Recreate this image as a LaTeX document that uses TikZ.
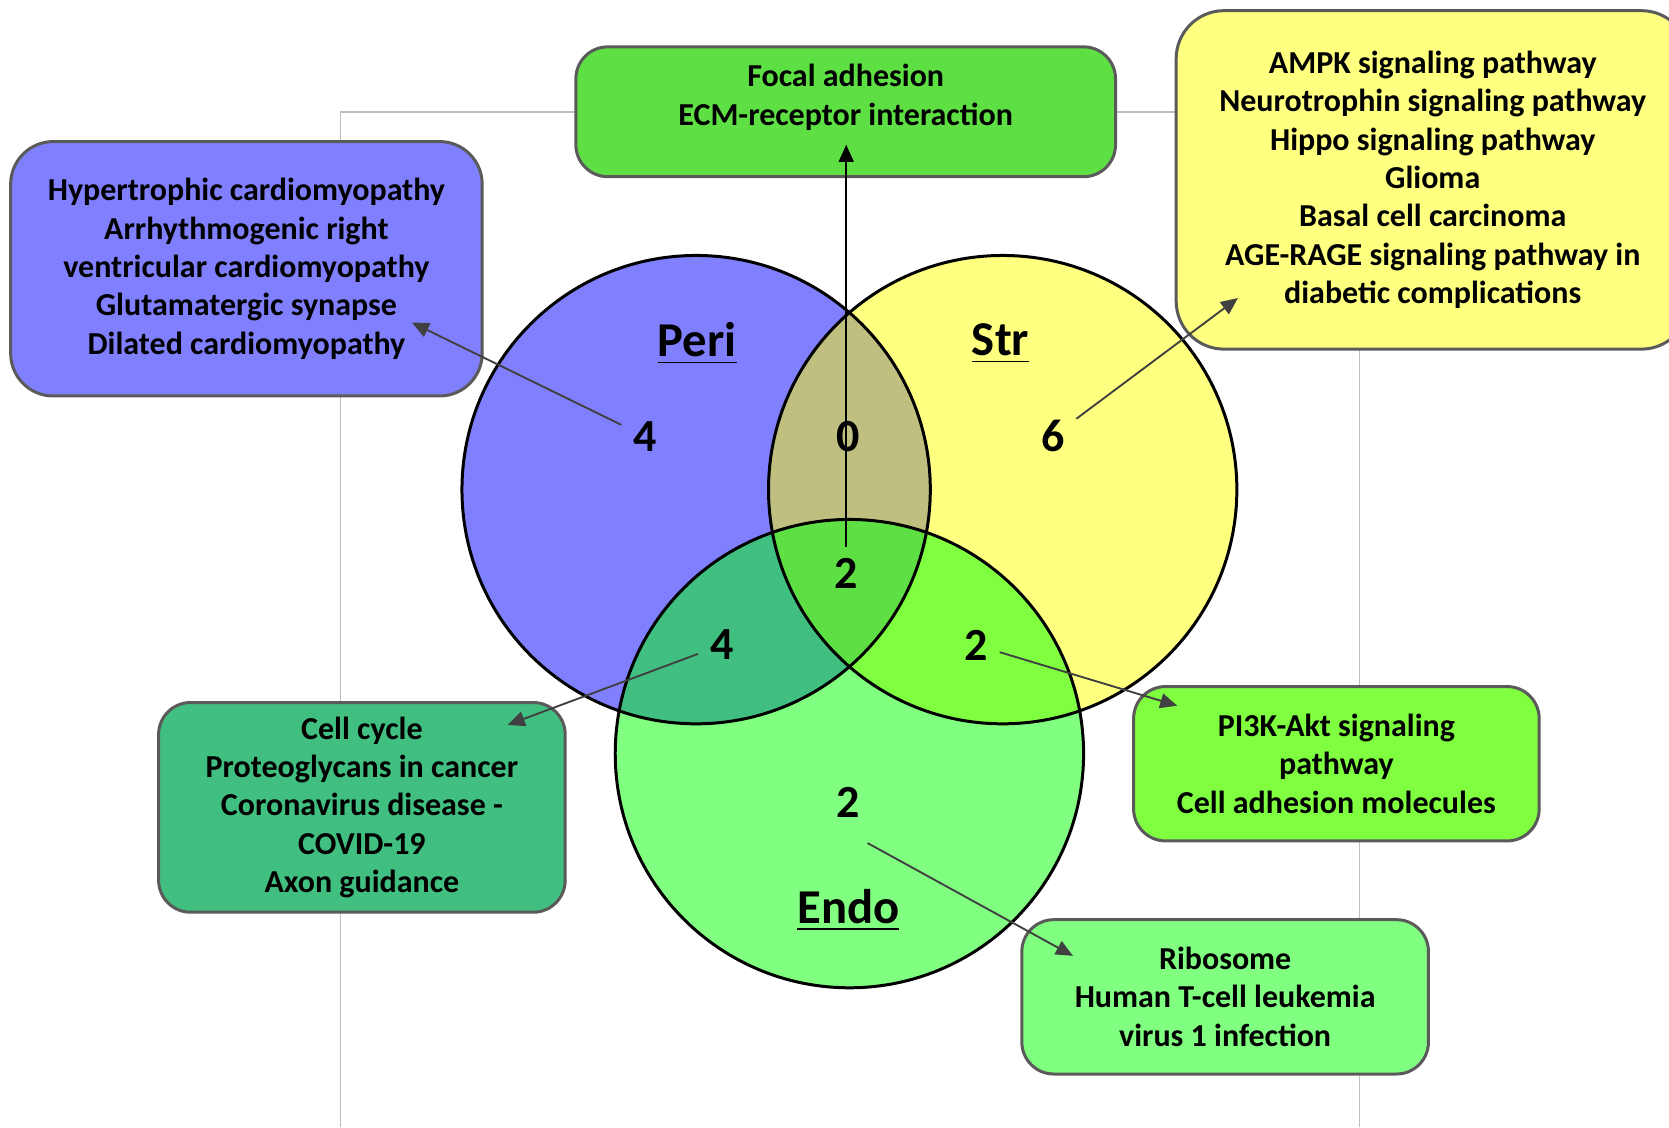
\documentclass[tikz,border=0pt]{standalone}
\usepackage{fontspec}
\setmainfont{Carlito}
\usepackage{tikz}
\usetikzlibrary{arrows.meta}

\definecolor{cperi}{HTML}{8080FF}
\definecolor{cstr}{HTML}{FFFF80}
\definecolor{cendo}{HTML}{80FF80}
\definecolor{cperistr}{HTML}{BFBF80}
\definecolor{cperiendo}{HTML}{40BF80}
\definecolor{cstrendo}{HTML}{80FF40}
\definecolor{call}{HTML}{5EDF44}
\definecolor{boxline}{HTML}{5A5A5A}
\definecolor{arrowgray}{HTML}{404040}
\definecolor{framegray}{HTML}{BFBFBF}

\newcommand{\boxtextfont}{\bfseries\fontsize{8.55}{10.25}\selectfont}
\newcommand{\countfont}{\bfseries\fontsize{12.3}{14}\selectfont}
\newcommand{\venntitlefont}{\bfseries\fontsize{13}{15}\selectfont}

\tikzset{
    pathbox/.style={draw=boxline, line width=0.8pt, rounded corners=0.3cm,
        align=center, font=\boxtextfont, inner sep=0pt},
    count/.style={font=\countfont, inner sep=3pt},
    setname/.style={font=\venntitlefont, inner sep=0pt},
    pointer/.style={-{Triangle[length=1.6mm,width=1.4mm]}, draw=arrowgray,
        line width=0.5pt},
}

\begin{document}
\begin{tikzpicture}
    \useasboundingbox (0,0) rectangle (15.68,-10.59);

    % chart frame
    \draw[framegray, line width=0.4pt] (3.20,-10.59) -- (3.20,-1.05)
        -- (12.77,-1.05) -- (12.77,-10.59);

    % circles
    \coordinate (cp) at (6.54,-4.60);
    \coordinate (cs) at (9.42,-4.60);
    \coordinate (ce) at (7.98,-7.08);
    \fill[cperi] (cp) circle (2.20);
    \fill[cstr]  (cs) circle (2.20);
    \fill[cendo] (ce) circle (2.20);
    \begin{scope}
        \clip (cp) circle (2.20);
        \fill[cperistr] (cs) circle (2.20);
        \fill[cperiendo] (ce) circle (2.20);
    \end{scope}
    \begin{scope}
        \clip (cs) circle (2.20);
        \fill[cstrendo] (ce) circle (2.20);
        \clip (cp) circle (2.20);
        \fill[call] (ce) circle (2.20);
    \end{scope}
    \draw[line width=0.8pt] (cp) circle (2.20);
    \draw[line width=0.8pt] (cs) circle (2.20);
    \draw[line width=0.8pt] (ce) circle (2.20);

    % set names
    \node[setname] (lperi) at (6.55,-3.23) {\underline{Peri}};
    \node[setname] (lstr)  at (9.40,-3.23) {\underline{Str}};
    \node[setname] (lendo) at (7.97,-8.55) {\underline{Endo}};

    % counts
    \node[count] (nperi) at (6.06,-4.10) {4};
    \node[count] (nps)   at (7.97,-4.10) {0};
    \node[count] (nstr)  at (9.89,-4.10) {6};
    \node[count] (nall)  at (7.95,-5.39) {2};
    \node[count] (npe)   at (6.78,-6.06) {4};
    \node[count] (nse)   at (9.17,-6.06) {2};
    \node[count] (nendo) at (7.97,-7.54) {2};

    % pathway boxes
    \node[pathbox, fill=cperi, rounded corners=0.4cm,
          minimum width=4.43cm, minimum height=2.39cm]
         (bperi) at (2.315,-2.525) {Hypertrophic cardiomyopathy\\
         Arrhythmogenic right\\ ventricular cardiomyopathy\\
         Glutamatergic synapse\\ Dilated cardiomyopathy};
    \node[pathbox, fill=call, minimum width=5.07cm, minimum height=1.22cm,
          text depth=0.32cm]
         (ball) at (7.945,-1.05) {Focal adhesion\\ ECM-receptor interaction};
    \node[pathbox, fill=cstr, rounded corners=0.45cm,
          minimum width=4.82cm, minimum height=3.18cm]
         (bstr) at (13.46,-1.69) {AMPK signaling pathway\\
         Neurotrophin signaling pathway\\ Hippo signaling pathway\\
         Glioma\\ Basal cell carcinoma\\ AGE-RAGE signaling pathway in\\
         diabetic complications};
    \node[pathbox, fill=cperiendo, minimum width=3.82cm, minimum height=1.97cm]
         (bpe) at (3.40,-7.585) {Cell cycle\\ Proteoglycans in cancer\\
         Coronavirus disease -\\ COVID-19\\ Axon guidance};
    \node[pathbox, fill=cstrendo, minimum width=3.81cm, minimum height=1.45cm]
         (bse) at (12.555,-7.175) {PI3K-Akt signaling\\ pathway\\
         Cell adhesion molecules};
    \node[pathbox, fill=cendo, minimum width=3.82cm, minimum height=1.45cm]
         (bendo) at (11.51,-9.365) {Ribosome\\ Human T-cell leukemia\\
         virus 1 infection};

    %edges
    \coordinate (tperi)  at (3.87,-3.03);
    \coordinate (tstr)   at (11.63,-2.80);
    \coordinate (tall)   at (7.95,-1.36);
    \coordinate (tpe)    at (4.77,-6.81);
    \coordinate (tse)    at (11.06,-6.63);
    \coordinate (sendo)  at (8.15,-7.92);
    \coordinate (tendo)  at (10.08,-8.98);

    \draw[pointer] (nperi) to (tperi);
    \draw[pointer] (nstr) to (tstr);
    \draw[pointer, draw=black] (nall) to (tall);
    \draw[pointer] (npe) to (tpe);
    \draw[pointer] (nse) to (tse);
    \draw[pointer] (sendo) to (tendo);
\end{tikzpicture}
\end{document}
